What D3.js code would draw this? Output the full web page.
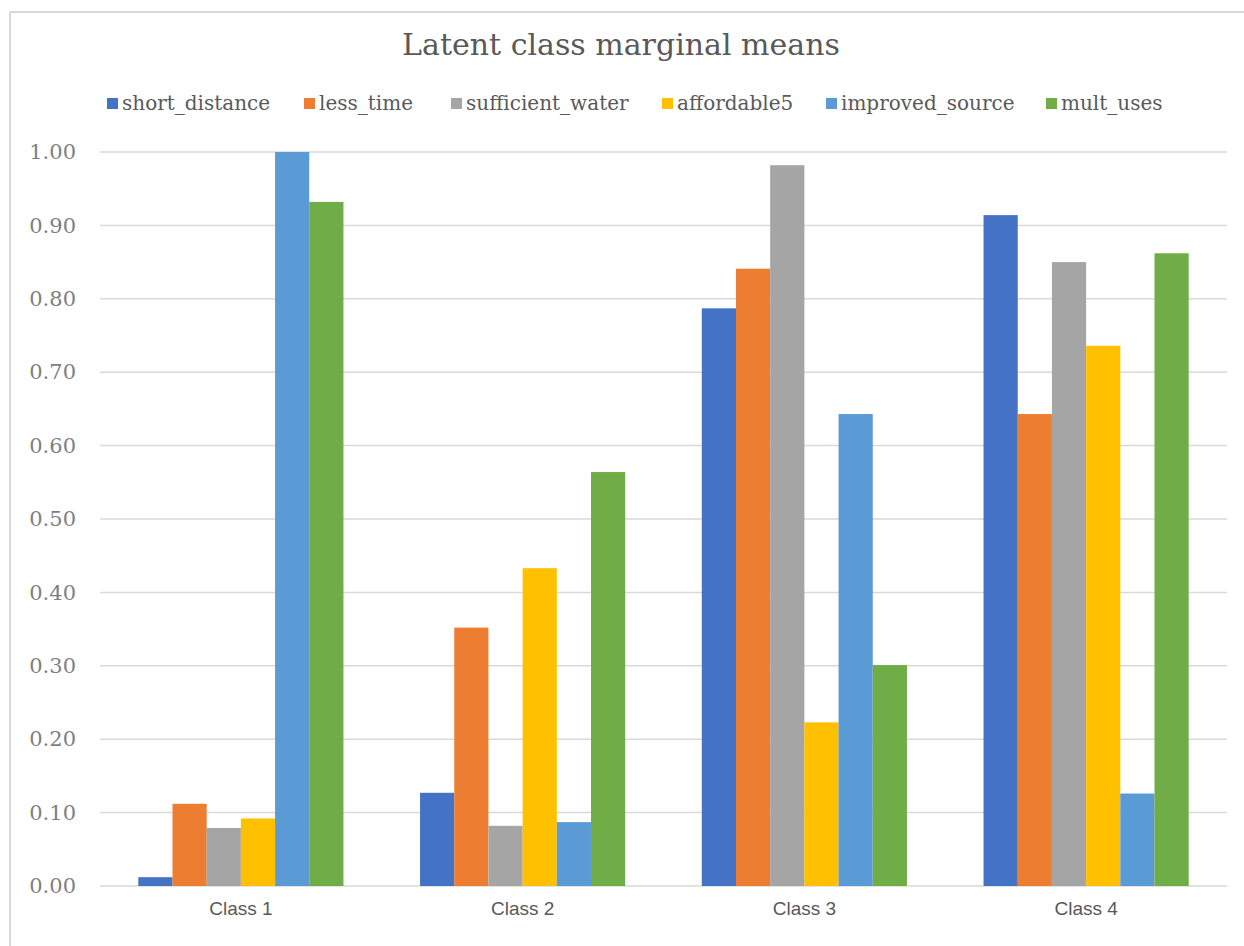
<!DOCTYPE html>
<html>
<head>
<meta charset="utf-8">
<script src="https://cdn.jsdelivr.net/npm/d3@7"></script>
<style>
  body { margin: 0; background: #fff; }
  svg { display: block; }
</style>
</head>
<body>
<div id="chart"></div>
<script>
const w = 1244;
const h = 946;

// data
const classes = ["Class 1", "Class 2", "Class 3", "Class 4"];
const series = ["short_distance", "less_time", "sufficient_water", "affordable5", "improved_source", "mult_uses"];
const colours = ["#4472C4", "#ED7D31", "#A5A5A5", "#FFC000", "#5B9BD5", "#70AD47"];
const shortDistance = [0.012, 0.127, 0.787, 0.914];
const lessTime = [0.112, 0.352, 0.841, 0.643];
const sufficientWater = [0.079, 0.082, 0.982, 0.850];
const affordable5 = [0.092, 0.433, 0.223, 0.736];
const improvedSource = [1.000, 0.087, 0.643, 0.126];
const multUses = [0.932, 0.564, 0.301, 0.862];
const yTicks = [0, 0.1, 0.2, 0.3, 0.4, 0.5, 0.6, 0.7, 0.8, 0.9, 1.0];

const values = [shortDistance, lessTime, sufficientWater, affordable5, improvedSource, multUses];

const margin = { left: 100, right: 1227, top: 152, bottom: 886 };

const svg = d3.select("#chart")
    .append("svg")
    .attr("width", w)
    .attr("height", h);

// frame (only top + left edges visible in the original crop)
svg.append("line")
    .attr("x1", 10).attr("x2", w).attr("y1", 12).attr("y2", 12)
    .attr("stroke", "#d9d9d9").attr("stroke-width", 2);
svg.append("line")
    .attr("x1", 10).attr("x2", 10).attr("y1", 12).attr("y2", h)
    .attr("stroke", "#d9d9d9").attr("stroke-width", 2);

const x0 = d3.scaleBand()
    .domain(classes)
    .range([margin.left, margin.right]);

const x1 = d3.scaleBand()
    .domain(series)
    .range([0, x0.bandwidth()])
    .paddingOuter(1.12);

const y = d3.scaleLinear()
    .domain([0, 1])
    .range([margin.bottom, margin.top]);

// gridlines
svg.append("g")
    .selectAll("line")
    .data(yTicks)
    .enter()
    .append("line")
    .attr("x1", margin.left)
    .attr("x2", margin.right)
    .attr("y1", d => y(d))
    .attr("y2", d => y(d))
    .attr("stroke", "#d9d9d9")
    .attr("stroke-width", 1.5);

// y axis labels
const yAxis = d3.axisLeft(y)
    .tickValues(yTicks)
    .tickFormat(d3.format(".2f"))
    .tickSize(0)
    .tickPadding(24);

svg.append("g")
    .attr("transform", "translate(" + margin.left + ",0)")
    .call(yAxis)
    .call(g => g.select(".domain").remove())
    .selectAll("text")
    .attr("font-family", "'DejaVu Serif', serif")
    .attr("font-size", 21)
    .attr("fill", "#7f7f7f");

// x axis labels
const xAxis = d3.axisBottom(x0)
    .tickSize(0)
    .tickPadding(16);

svg.append("g")
    .attr("transform", "translate(0," + margin.bottom + ")")
    .call(xAxis)
    .call(g => g.select(".domain").remove())
    .selectAll("text")
    .attr("font-family", "'Liberation Sans', Arial, sans-serif")
    .attr("font-size", 19)
    .attr("fill", "#595959");

// bars
const groups = svg.selectAll("g.cls")
    .data(classes)
    .enter()
    .append("g")
    .attr("class", "cls")
    .attr("transform", d => "translate(" + x0(d) + ",0)");

groups.selectAll("rect")
    .data((d, i) => series.map((s, j) => ({ key: s, value: values[j][i], c: colours[j] })))
    .enter()
    .append("rect")
    .attr("x", d => x1(d.key))
    .attr("width", x1.bandwidth())
    .attr("y", d => y(d.value))
    .attr("height", d => y(0) - y(d.value))
    .attr("fill", d => d.c);

// title
svg.append("text")
    .attr("x", 621)
    .attr("y", 55)
    .attr("text-anchor", "middle")
    .attr("font-family", "'DejaVu Serif', serif")
    .attr("font-size", 30)
    .attr("fill", "#595959")
    .text("Latent class marginal means");

// legend
const legendX = [107, 304, 451, 662, 826, 1046];
const legend = svg.selectAll("g.legend")
    .data(series)
    .enter()
    .append("g")
    .attr("class", "legend")
    .attr("transform", (d, i) => "translate(" + legendX[i] + ",104)");

legend.append("rect")
    .attr("x", 0)
    .attr("y", -6)
    .attr("width", 11)
    .attr("height", 11)
    .attr("fill", (d, i) => colours[i]);

legend.append("text")
    .attr("x", 15)
    .attr("y", 6)
    .attr("font-family", "'DejaVu Serif', serif")
    .attr("font-size", 20)
    .attr("fill", "#595959")
    .text(d => d);
</script>
</body>
</html>
